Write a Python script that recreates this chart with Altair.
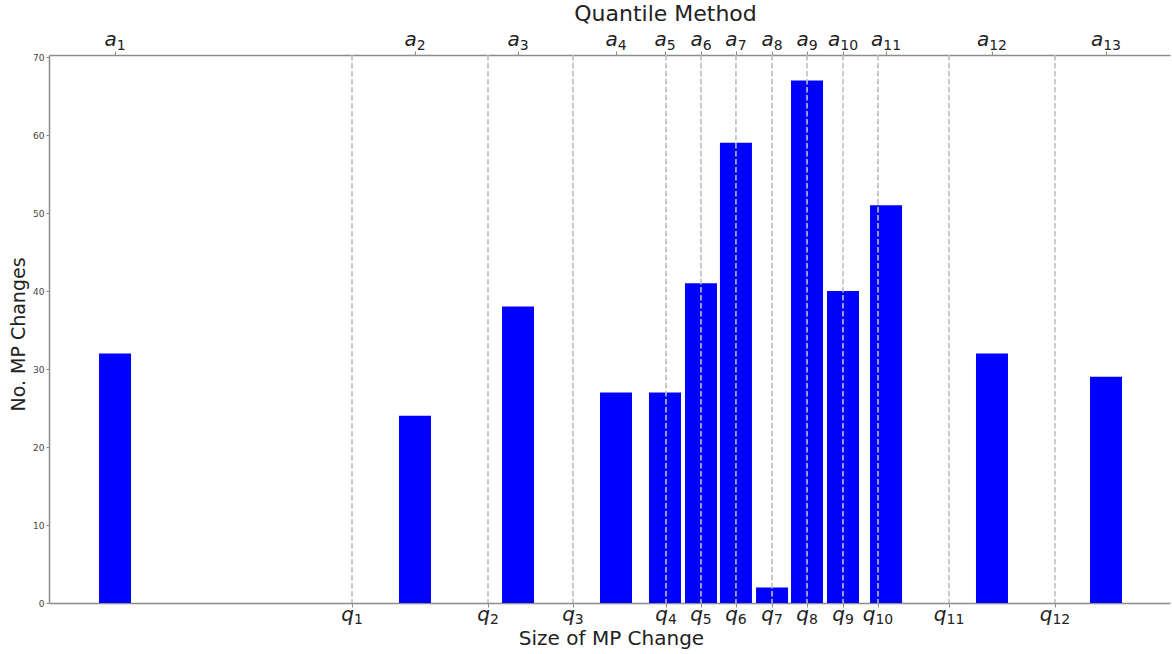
import altair as alt
import pandas as pd

# Bin centres of the quantile method (a_i) and the counts of MP changes in each
a_pos = [5.89, 32.65, 41.84, 50.58, 54.95, 58.16, 61.28, 64.50, 67.62, 70.83, 74.67, 84.12, 94.29]
counts = [32, 24, 38, 27, 27, 41, 59, 2, 67, 40, 51, 32, 29]

# Quantile thresholds q_i
q_pos = [27.03, 39.16, 46.74, 55.04, 58.16, 61.28, 64.50, 67.62, 70.83, 73.95, 80.29, 89.74]

y_ticks = [0, 10, 20, 30, 40, 50, 60, 70]

FONT = "DejaVu Sans"
AXIS_GREY = "#8c8c8c"
TEXT = "#222222"
MAIN_SIZE = 20
SUB_SIZE = 14

x_scale = alt.Scale(domain=[0, 100], nice=False, zero=False, padding=0)


def tick_table(letter, positions):
    idx = [str(i + 1) for i in range(len(positions))]
    return pd.DataFrame(
        {"pos": positions, "letter": letter, "sub": idx, "ndig": [len(s) for s in idx]}
    )


bars_df = pd.DataFrame({"pos": a_pos, "count": counts})
rules_df = pd.DataFrame({"pos": q_pos})
a_df = tick_table("a", a_pos)
q_df = tick_table("q", q_pos)

bars = alt.Chart(bars_df).mark_bar(color="#0000ff", size=32).encode(
    x=alt.X(
        "pos:Q",
        scale=x_scale,
        axis=alt.Axis(
            orient="top",
            values=a_pos,
            labels=False,
            title="Quantile Method",
            titleFontSize=22,
            titleFontWeight="normal",
            titleColor=TEXT,
            titleX=616,
            titleY=-42,
            titleBaseline="middle",
            tickSize=4,
            grid=False,
        ),
    ),
    y=alt.Y(
        "count:Q",
        scale=alt.Scale(domain=[0, 70.26], nice=False),
        axis=alt.Axis(
            values=y_ticks,
            title="No. MP Changes",
            titleFontSize=19,
            titleFontWeight="normal",
            titleColor=TEXT,
            titleX=-31,
            titleY=279,
            titleAngle=270,
            titleBaseline="middle",
            titleAlign="center",
            labelFontSize=9,
            labelColor="#444444",
            labelPadding=2,
            tickSize=3,
            grid=False,
        ),
    ),
)

rules = alt.Chart(rules_df).mark_rule(
    color="#bdbdbd", strokeWidth=1.6, strokeDash=[5.5, 2.5]
).encode(
    x=alt.X(
        "pos:Q",
        scale=x_scale,
        axis=alt.Axis(
            orient="bottom",
            values=q_pos,
            labels=False,
            title="Size of MP Change",
            titleFontSize=20,
            titleFontWeight="normal",
            titleColor=TEXT,
            titleX=562,
            titleY=35,
            titleBaseline="middle",
            tickSize=4,
            grid=False,
        ),
    ),
)


def math_labels(df, letter_w, y_main, y_sub):
    """Italic letter with a subscript index, centred as a whole on its tick."""
    digit_w = 0.636 * SUB_SIZE
    layers = []
    for n in (1, 2):
        anchor = (letter_w - n * digit_w) / 2
        base = alt.Chart(df).transform_filter(alt.datum.ndig == n)
        x_enc = alt.X("pos:Q", scale=x_scale, axis=None)
        layers.append(
            base.mark_text(
                align="right", baseline="alphabetic", font=FONT, fontSize=MAIN_SIZE,
                fontStyle="italic", color=TEXT, dx=anchor,
            ).encode(x=x_enc, y=alt.value(y_main), text="letter:N")
        )
        layers.append(
            base.mark_text(
                align="left", baseline="alphabetic", font=FONT, fontSize=SUB_SIZE,
                color=TEXT, dx=anchor,
            ).encode(x=x_enc, y=alt.value(y_sub), text="sub:N")
        )
    return layers


top_labels = math_labels(a_df, 0.613 * MAIN_SIZE, -9, -5)
bottom_labels = math_labels(q_df, 0.635 * MAIN_SIZE, 566, 569)

chart = (
    alt.layer(bars, rules, *top_labels, *bottom_labels)
    .resolve_axis(x="independent")
    .properties(
        width=1121,
        height=548,
        autosize=alt.AutoSizeParams(type="none"),
        padding={"left": 49, "top": 55, "right": 2, "bottom": 51},
    )
    .configure_view(stroke=None)
    .configure_axis(
        domainColor=AXIS_GREY,
        domainWidth=1.5,
        tickColor=AXIS_GREY,
        tickWidth=1,
        labelFont=FONT,
        titleFont=FONT,
    )
)

chart.save("out.html", embed_options={"renderer": "svg", "actions": False})
